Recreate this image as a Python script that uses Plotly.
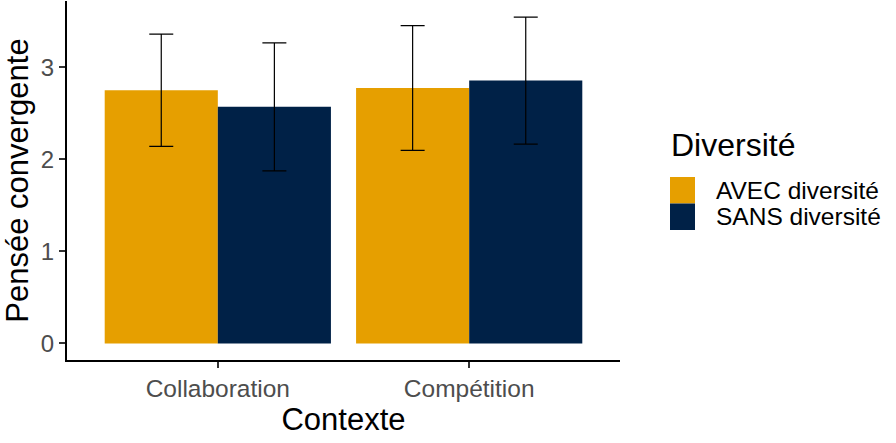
import plotly.graph_objects as go

# ---- data ----
contexts = ["Collaboration", "Compétition"]
groups = ["AVEC diversité", "SANS diversité"]
means_avec = [2.75, 2.775]
means_sans = [2.57, 2.855]
err_avec = [0.61, 0.677]
err_sans = [0.695, 0.69]
colors = ["#E69F00", "#002147"]
y_ticks = [0, 1, 2, 3]
legend_title = "Diversité"
x_title = "Contexte"
y_title = "Pensée convergente"

W, H = 896, 443
L, R, T, B = 67, 276, 1, 83
pw, ph = W - L - R, H - T - B

FONT = "Liberation Sans, Arial, sans-serif"

fig = go.Figure()
for name, m, e, c in [(groups[0], means_avec, err_avec, colors[0]),
                      (groups[1], means_sans, err_sans, colors[1])]:
    fig.add_trace(go.Bar(
        x=contexts, y=m, name=name, marker=dict(color=c, line=dict(width=0)),
        error_y=dict(type="data", array=e, visible=True, color="black",
                     thickness=1.2, width=12),
        showlegend=False,
    ))

fig.update_layout(
    width=W, height=H,
    margin=dict(l=L, r=R, t=T, b=B),
    paper_bgcolor="white", plot_bgcolor="white",
    barmode="group", bargap=0.1, bargroupgap=0,
    font=dict(family=FONT, color="black"),
    xaxis=dict(
        range=[-0.6, 1.6], showgrid=False, zeroline=False,
        showline=True, linecolor="black", linewidth=2,
        ticks="outside", ticklen=6, tickwidth=1.5, tickcolor="#333333",
        tickfont=dict(size=24.5, color="#4D4D4D", family=FONT),
        title=dict(text=x_title, font=dict(size=31, color="black", family=FONT), standoff=4),
    ),
    yaxis=dict(
        range=[-0.18, 3.72], showgrid=False, zeroline=False,
        showline=True, linecolor="black", linewidth=2,
        tickvals=y_ticks, ticktext=[str(v) for v in y_ticks],
        ticks="outside", ticklen=6, tickwidth=1.5, tickcolor="#333333",
        tickfont=dict(size=24, color="#4D4D4D", family=FONT),
        title=dict(text=y_title, font=dict(size=31, color="black", family=FONT), standoff=10),
    ),
)

def px_x(px):
    return (px - L) / pw

def px_y(py):
    return (H - B - py) / ph

# manual legend (large keys as in the reference)
fig.add_annotation(text=legend_title, xref="paper", yref="paper",
                   x=px_x(669), y=px_y(145), xanchor="left", yanchor="middle",
                   showarrow=False, font=dict(size=32, color="black", family=FONT))
key_top = 177
key_h = 26.5
for i, (g, c) in enumerate(zip(groups, colors)):
    y0 = key_top + i * key_h
    fig.add_shape(type="rect", xref="paper", yref="paper",
                  x0=px_x(670), x1=px_x(695), y0=px_y(y0), y1=px_y(y0 + key_h),
                  fillcolor=c, line=dict(width=0))
    fig.add_annotation(text=g, xref="paper", yref="paper",
                       x=px_x(714), y=px_y(y0 + key_h / 2), xanchor="left", yanchor="middle",
                       showarrow=False, font=dict(size=24.5, color="black", family=FONT))

fig.write_html("out.html")
